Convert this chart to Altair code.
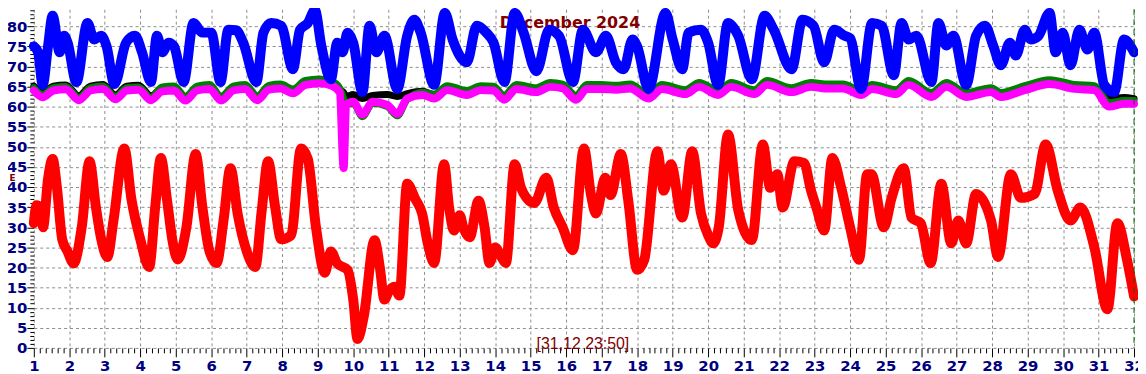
import altair as alt
import pandas as pd

TITLE = "December 2024"
STAMP = "[31,12 23:50]"
AXIS_MARK = "E"

red_day = [1.00, 1.08, 1.18, 1.26, 1.40, 1.53, 1.65, 1.80, 1.95, 2.12,
           2.35, 2.57, 2.75, 2.90, 3.07, 3.25, 3.55, 3.75, 4.00, 4.25,
           4.42, 4.58, 4.75, 4.92, 5.05, 5.30, 5.56, 5.75, 5.95, 6.15,
           6.35, 6.54, 6.75, 7.00, 7.24, 7.42, 7.60, 7.80, 7.97, 8.25,
           8.53, 8.72, 8.95, 9.20, 9.37, 9.55, 9.84, 10.00, 10.12, 10.30,
           10.60, 10.75, 10.88, 11.00, 11.16, 11.30, 11.52, 11.75, 11.94, 12.10,
           12.28, 12.56, 12.70, 12.84, 13.00, 13.10, 13.28, 13.53, 13.70, 13.84,
           14.00, 14.15, 14.30, 14.55, 14.72, 14.88, 15.10, 15.44, 15.65, 15.90,
           16.19, 16.50, 16.70, 16.84, 17.10, 17.25, 17.54, 17.75, 18.00, 18.20,
           18.57, 18.75, 18.95, 19.27, 19.55, 19.80, 20.00, 20.14, 20.30, 20.56,
           20.85, 21.23, 21.54, 21.75, 21.95, 22.10, 22.43, 22.70, 22.90, 23.05,
           23.27, 23.50, 23.75, 24.00, 24.25, 24.48, 24.60, 24.95, 25.17, 25.51,
           25.73, 25.99, 26.27, 26.57, 26.85, 27.05, 27.27, 27.55, 27.97, 28.17,
           28.53, 28.81, 29.20, 29.51, 29.85, 30.21, 30.49, 30.88, 31.25, 31.53,
           31.80, 32.00]
red_val = [31.0, 35.5, 35.0, 30.0, 42.0, 47.0, 40.0, 27.0, 24.0, 21.0,
           30.0, 46.4, 35.0, 27.0, 22.6, 32.0, 49.6, 37.0, 27.0, 20.1,
           35.0, 47.2, 37.0, 26.0, 22.0, 30.0, 48.2, 35.0, 24.0, 21.1,
           32.0, 44.7, 33.0, 24.0, 20.1, 34.0, 46.4, 35.0, 27.0, 28.0,
           49.6, 47.0, 30.0, 18.7, 24.0, 21.0, 19.4, 12.0, 2.2, 8.0,
           26.8, 20.0, 12.0, 14.0, 15.2, 13.0, 40.8, 37.0, 33.4, 26.0,
           21.1, 45.7, 35.0, 29.2, 33.0, 30.0, 27.5, 36.6, 30.0, 21.1,
           25.0, 23.0, 21.1, 45.7, 40.0, 37.3, 36.0, 42.3, 34.9, 30.0,
           24.3, 49.6, 38.0, 33.4, 42.3, 38.0, 48.2, 36.6, 19.4, 21.9,
           48.9, 39.1, 45.7, 32.4, 48.9, 33.4, 28.0, 26.0, 30.0, 53.1,
           34.2, 26.8, 50.6, 39.8, 43.2, 34.9, 46.4, 46.0, 39.1, 34.9,
           29.2, 47.2, 39.8, 30.0, 21.9, 43.2, 43.2, 30.0, 37.3, 44.7,
           32.4, 31.0, 21.1, 40.8, 26.0, 31.7, 26.0, 38.3, 31.7, 22.6,
           43.2, 37.3, 38.3, 50.6, 39.1, 31.7, 34.9, 25.1, 9.6, 31.0,
           22.0, 12.8]

blue_day = [1.00, 1.12, 1.25, 1.40, 1.53, 1.73, 1.85, 1.95, 2.20, 2.51,
            2.70, 2.90, 3.05, 3.27, 3.60, 3.85, 4.05, 4.30, 4.47, 4.62,
            4.80, 4.95, 5.22, 5.50, 5.75, 6.00, 6.26, 6.48, 6.70, 6.90,
            7.27, 7.47, 7.69, 7.97, 8.30, 8.50, 8.72, 8.92, 9.10, 9.37,
            9.55, 9.70, 9.84, 10.00, 10.26, 10.46, 10.65, 10.88, 11.24, 11.52,
            11.72, 11.90, 12.28, 12.58, 12.80, 13.20, 13.48, 13.75, 13.95, 14.26,
            14.55, 14.80, 15.16, 15.52, 15.80, 16.19, 16.47, 16.84, 17.12, 17.40,
            17.62, 17.87, 18.00, 18.32, 18.80, 19.00, 19.27, 19.45, 19.80, 20.00,
            20.28, 20.56, 20.85, 21.23, 21.59, 21.85, 22.35, 22.66, 22.97, 23.27,
            23.55, 23.85, 24.00, 24.31, 24.62, 24.89, 25.23, 25.45, 25.65, 25.87,
            26.29, 26.49, 26.71, 26.91, 27.27, 27.55, 27.80, 28.03, 28.25, 28.50,
            28.67, 28.92, 29.09, 29.30, 29.62, 29.79, 29.99, 30.21, 30.46, 30.69,
            30.88, 31.16, 31.44, 31.72, 32.00]
blue_val = [75.0, 73.5, 65.4, 75.0, 82.6, 73.5, 77.6, 76.0, 66.1, 80.8,
            76.7, 77.6, 75.0, 65.6, 75.9, 77.6, 73.5, 66.1, 77.6, 73.5,
            75.9, 75.0, 66.1, 80.8, 78.4, 78.4, 66.1, 79.1, 79.0, 75.9,
            66.1, 78.4, 80.8, 80.1, 69.3, 79.1, 80.8, 84.0, 75.2, 66.8,
            75.9, 73.5, 78.4, 75.9, 63.6, 80.1, 73.5, 77.6, 64.4, 77.6,
            81.6, 78.4, 65.4, 83.3, 76.7, 71.0, 80.1, 78.4, 76.0, 66.1,
            83.3, 78.4, 68.8, 79.1, 77.6, 66.1, 79.1, 73.5, 77.6, 71.0,
            69.3, 76.7, 75.0, 64.4, 83.3, 76.7, 69.3, 78.4, 79.1, 75.9,
            65.4, 80.8, 77.6, 66.8, 82.6, 79.1, 69.3, 81.6, 80.1, 71.0,
            79.1, 77.6, 77.0, 64.4, 80.8, 80.1, 67.8, 80.8, 76.7, 77.6,
            66.1, 80.8, 75.2, 77.6, 65.4, 77.6, 80.1, 75.2, 70.3, 75.9,
            72.7, 79.1, 76.7, 77.5, 83.3, 73.5, 78.4, 70.3, 79.1, 74.2,
            78.4, 65.4, 63.6, 76.7, 73.5]

mix_day = [1.00, 1.25, 1.55, 1.90, 2.27, 2.60, 2.95, 3.30, 3.62, 3.95,
           4.30, 4.62, 4.95, 5.27, 5.60, 5.95, 6.28, 6.62, 6.95, 7.30,
           7.62, 7.95, 8.30, 8.65, 9.05, 9.40, 9.62, 9.73, 9.80, 10.00,
           10.26, 10.55, 10.96, 11.24, 11.52, 11.95, 12.28, 12.65, 13.20, 13.60,
           13.95, 14.25, 14.60, 15.16, 15.55, 15.90, 16.28, 16.58, 17.00, 17.40,
           17.80, 18.32, 18.70, 19.35, 19.75, 20.28, 20.65, 21.30, 21.66, 22.35,
           22.90, 23.30, 23.80, 24.31, 24.62, 25.29, 25.65, 26.29, 26.71, 27.27,
           27.97, 28.25, 28.92, 29.62, 30.32, 30.88, 31.30, 31.72, 32.00]
magenta_val = [64.0, 62.3, 64.0, 64.3, 61.6, 64.0, 64.4, 61.8, 64.0, 64.2,
               61.6, 63.8, 64.0, 61.5, 64.0, 64.4, 61.5, 64.0, 64.4, 61.6,
               64.2, 64.5, 63.3, 65.4, 65.8, 65.2, 63.5, 44.7, 60.4, 61.2,
               58.0, 61.2, 60.4, 58.2, 62.0, 62.9, 62.0, 64.1, 62.9, 64.1,
               64.0, 61.7, 64.4, 63.6, 64.9, 64.5, 61.7, 64.4, 64.4, 64.2,
               64.5, 62.0, 64.4, 63.1, 64.9, 62.9, 64.9, 63.1, 65.4, 63.6,
               64.9, 64.5, 64.5, 62.9, 64.4, 63.1, 65.4, 62.4, 64.9, 62.4,
               63.6, 62.4, 64.1, 65.6, 64.4, 64.1, 60.0, 60.7, 60.7]
black_val = [65.1, 63.4, 65.1, 65.4, 62.7, 65.1, 65.5, 62.9, 65.1, 65.3,
             62.7, 64.6, 64.8, 62.3, 64.8, 65.2, 62.3, 64.8, 65.2, 62.4,
             65.0, 65.3, 64.1, 66.2, 66.6, 66.0, 64.3, 63.5, 62.5, 63.0,
             62.0, 62.8, 63.0, 62.5, 63.2, 63.8, 63.0, 64.9, 63.7, 64.9,
             64.8, 62.5, 65.2, 64.4, 65.7, 65.3, 62.5, 65.2, 65.2, 65.0,
             65.3, 62.8, 65.2, 63.9, 65.7, 63.7, 65.7, 63.9, 66.2, 64.4,
             65.7, 65.3, 65.3, 63.7, 65.2, 63.9, 66.2, 63.2, 65.7, 63.2,
             64.4, 63.2, 64.9, 66.4, 65.2, 64.9, 62.0, 62.3, 62.0]
green_val = [64.7, 63.0, 64.7, 65.0, 62.3, 64.7, 65.1, 62.5, 64.7, 64.9,
             62.3, 64.9, 65.1, 62.6, 65.1, 65.5, 62.6, 65.1, 65.5, 62.7,
             65.3, 65.6, 64.4, 66.5, 66.9, 66.3, 64.6, 62.0, 60.5, 60.8,
             57.5, 60.8, 60.0, 57.7, 61.8, 63.6, 63.1, 65.2, 64.0, 65.2,
             65.1, 62.8, 65.5, 64.7, 66.0, 65.6, 62.8, 65.5, 65.5, 65.3,
             65.6, 63.1, 65.5, 64.2, 66.0, 64.0, 66.0, 64.2, 66.5, 64.7,
             66.0, 65.6, 65.6, 64.0, 65.5, 64.2, 66.5, 63.5, 66.0, 63.5,
             64.7, 63.5, 65.2, 66.7, 65.5, 65.2, 61.0, 61.5, 61.5]

# (series, days, values, colour, stroke width) in drawing order
series = [
    ("black", mix_day, black_val, "#000000", 7),
    ("green", mix_day, green_val, "#008000", 7),
    ("magenta", mix_day, magenta_val, "#ff00ff", 8),
    ("red", red_day, red_val, "#ff0000", 10),
    ("blue", blue_day, blue_val, "#0000ff", 10),
]

df = pd.concat(
    [pd.DataFrame({"day": d, "value": v, "series": n}) for n, d, v, _, _ in series],
    ignore_index=True,
)

x_ticks = [round(1 + k / 6, 4) for k in range(0, 31 * 6 + 1)]
y_ticks = list(range(0, 85))
major_x = "abs(datum.value - round(datum.value)) < 0.01"
major_y = "datum.value % 5 === 0"

LABEL_FONT = "DejaVu Sans"
NAVY = "#000080"
DARKRED = "#800000"

x_axis = alt.Axis(
    values=x_ticks,
    labelExpr=f"{major_x} ? format(datum.value, 'd') : ''",
    tickSize={"condition": {"test": major_x, "value": 9}, "value": 5},
    grid=True,
    gridOpacity={"condition": {"test": major_x, "value": 1}, "value": 0},
    gridColor="#8c8c8c", gridDash=[3, 3], gridWidth=1,
    domain=False, tickColor="#000000", tickWidth=1,
    labelFont=LABEL_FONT, labelFontSize=15, labelFontWeight="bold",
    labelColor=NAVY, labelPadding=2, labelOverlap=False, labelFlush=False,
    title=None,
)
y_axis = alt.Axis(
    values=y_ticks,
    labelExpr=f"{major_y} ? datum.value : ''",
    tickSize={"condition": {"test": major_y, "value": 7}, "value": 4},
    grid=True,
    gridOpacity={"condition": {"test": major_y, "value": 1}, "value": 0},
    gridColor="#8c8c8c", gridDash=[3, 3], gridWidth=1,
    domain=False, tickColor="#000000", tickWidth=1,
    labelFont=LABEL_FONT, labelFontSize=15, labelFontWeight="bold",
    labelColor=NAVY, labelPadding=0, labelOverlap=False, labelFlush=False,
    title=AXIS_MARK, titleAngle=0, titleX=-22, titleY=169,
    titleFont=LABEL_FONT, titleFontSize=9, titleFontWeight="bold",
    titleColor=DARKRED, titleAlign="center", titleBaseline="middle",
)

x_enc = alt.X("day:Q", scale=alt.Scale(domain=[1, 32], nice=False, zero=False), axis=x_axis)
y_enc = alt.Y("value:Q", scale=alt.Scale(domain=[0, 84.2], nice=False, zero=False), axis=y_axis)

title_layer = alt.Chart(pd.DataFrame({"t": [TITLE]})).mark_text(
    font=LABEL_FONT, fontSize=16, fontWeight="bold", color=DARKRED,
    align="center", baseline="alphabetic",
).encode(x=alt.value(540), y=alt.value(19), text="t:N")

stamp_layer = alt.Chart(pd.DataFrame({"t": [STAMP]})).mark_text(
    font="Liberation Sans", fontSize=16, color=DARKRED,
    align="center", baseline="alphabetic",
).encode(x=alt.value(553), y=alt.value(342), text="t:N")

line_layers = []
for name, _, _, colour, width in series:
    line_layers.append(
        alt.Chart(df).transform_filter(alt.datum.series == name).mark_line(
            color=colour, strokeWidth=width, interpolate="monotone",
            strokeCap="round", strokeJoin="round",
        ).encode(x=x_enc, y=y_enc)
    )

end_rule = alt.Chart(pd.DataFrame({"day": [32.0]})).mark_rule(
    color="#006400", strokeDash=[6, 4], strokeWidth=1
).encode(x=x_enc)

chart = alt.layer(title_layer, stamp_layer, *line_layers, end_rule).properties(
    width=1108, height=341, autosize="none",
    padding={"left": 26, "top": 0, "right": 4, "bottom": 25},
    background="#ffffff",
).configure_view(stroke=None)

chart.save("out.html", embed_options={"renderer": "svg", "actions": False})
